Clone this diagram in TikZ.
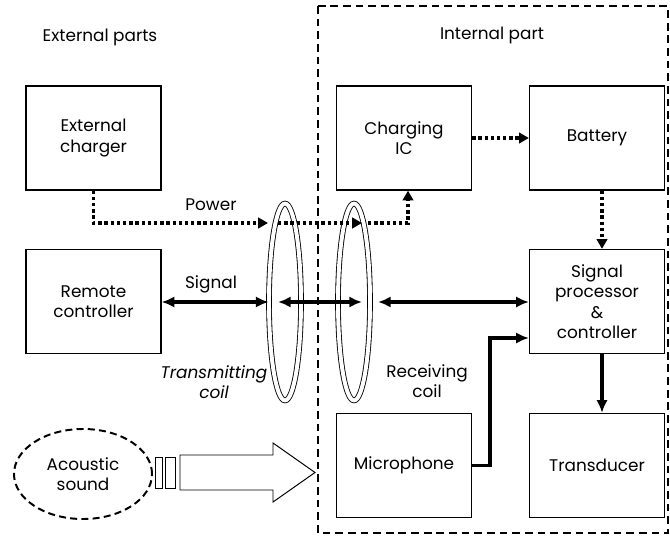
\documentclass[tikz,border=0pt]{standalone}
\usepackage{fontspec}
\setmainfont{Poppins}
\usetikzlibrary{shapes.geometric, arrows.meta}

\begin{document}
\begin{tikzpicture}[
      x=0.025cm, y=-0.025cm,
      font=\fontsize{12}{14.5}\selectfont,
      blk/.style={rectangle, draw, line width=0.9pt, minimum width=3.375cm, minimum height=2.6cm, align=center, inner sep=0pt},
      coil/.style={ellipse, draw, line width=0.6pt, double, double distance=2.8pt, minimum width=0.8cm, minimum height=4.92cm, inner sep=0pt},
      snd/.style={ellipse, draw, line width=1.4pt, dash pattern=on 5pt off 3pt, minimum width=3.45cm, minimum height=2.25cm, align=center, inner sep=0pt},
      frame/.style={line width=2.1pt, dash pattern=on 5.5pt off 3.5pt},
      pow/.style={-{Triangle[length=7pt,width=7.5pt]}, line width=2.5pt, dash pattern=on 2.4pt off 2pt},
      sig/.style={-{Latex[length=9pt,width=8pt]}, line width=2.4pt},
      bisig/.style={{Latex[length=9pt,width=8pt]}-{Latex[length=9pt,width=8pt]}, line width=2.4pt},
      lbl/.style={align=center, inner sep=1pt}
    ]
    \useasboundingbox (0,0) rectangle (670,538);

    % internal part frame
    \draw[frame] (318,6) rectangle (668,533);

    \node[lbl] (ext) at (100,37) {External parts};
    \node[lbl] (int) at (492,35) {Internal part};

    \node[blk] (charger) at (93.5,138) {External\\charger};
    \node[blk] (remote) at (93.5,301.5) {Remote\\controller};
    \node[blk] (chargeic) at (404,138) {Charging\\IC};
    \node[blk] (battery) at (597,138) {Battery};
    \node[blk] (proc) at (597,301.5) {Signal\\processor\\\&\\controller};
    \node[blk] (mic) at (404,465.5) {Microphone};
    \node[blk] (trans) at (597,465.5) {Transducer};

    \node[coil] (txcoil) at (285,302) {};
    \node[coil] (rxcoil) at (354,302) {};

    \node[snd] (sound) at (83,474) {Acoustic\\sound};

    % sound wave
    \draw[line width=0.7pt] (155,457) rectangle (162,488);
    \draw[line width=0.7pt] (165,457) rectangle (175,488);
    \draw[line width=0.7pt] (180,455) -- (273,455) -- (273,443) -- (315,472.5)
      -- (273,502) -- (273,490) -- (180,490) -- cycle;

    % power path
    \coordinate (p1) at (268,223);
    \coordinate (p2) at (278,223);
    \coordinate (p3) at (362,223);
    \coordinate (p4) at (368,223);
    \draw[pow] (charger.south) |- (p1);
    \draw[pow] (p2) -- (p3);
    \draw[pow] (p4) -| ([xshift=0.1cm]chargeic.south);
    \draw[pow] (chargeic) -- (battery);
    \draw[pow] ([xshift=0.125cm]battery.south) -- ([xshift=0.125cm]proc.north);

    % signal path
    \coordinate (s1) at (278,302);
    \coordinate (s2) at (362,302);
    \coordinate (s3) at (378,302);
    \coordinate (mb) at (490,338);
    \draw[bisig] (remote.east |- s1) -- (txcoil.west);
    \draw[bisig] (s1) -- (s2);
    \draw[bisig] (s3) -- (s3 -| proc.west);
    \draw[sig] (mic.east) -| (mb) -- (mb -| proc.west);
    \draw[sig] ([xshift=0.125cm]proc.south) -- ([xshift=0.125cm]trans.north);

    \node[lbl] (powlbl) at (211,205) {Power};
    \node[lbl] (siglbl) at (211,284) {Signal};
    \node[lbl, font=\fontsize{12}{14.5}\selectfont\itshape] (txlbl) at (214,382) {Transmitting\\coil};
    \node[lbl] (rxlbl) at (427,381) {Receiving\\coil};
  \end{tikzpicture}
\end{document}
